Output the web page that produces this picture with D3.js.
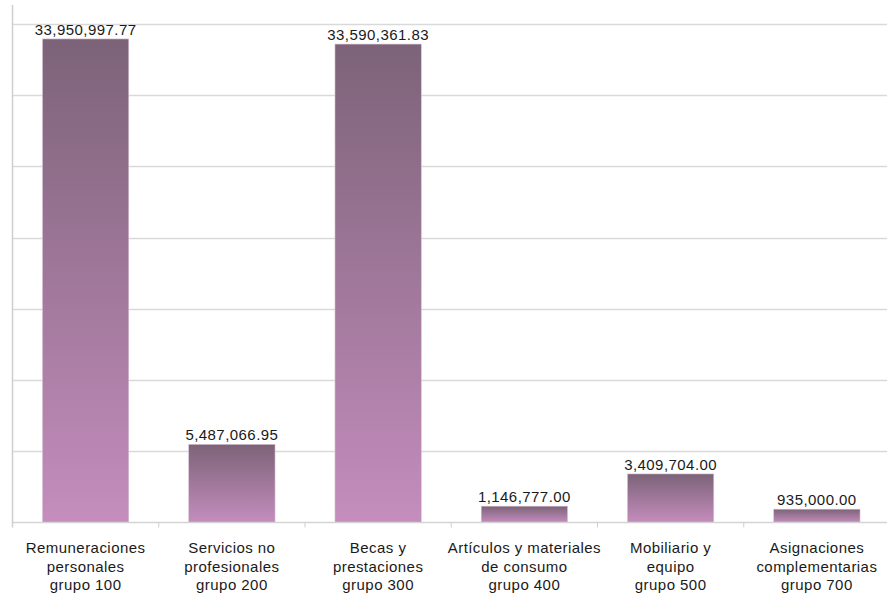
<!DOCTYPE html>
<html>
<head>
<meta charset="utf-8">
<script src="https://cdn.jsdelivr.net/npm/d3@7"></script>
<style>
  html, body { margin: 0; padding: 0; background: #fff; }
  svg { display: block; }
  text { font-family: "Liberation Sans", Arial, Helvetica, sans-serif; fill: #1a1a1a; letter-spacing: 0.45px; }
</style>
</head>
<body>
<svg id="chart" width="887" height="595"></svg>
<script>
const categories = [
  ["Remuneraciones", "personales", "grupo 100"],
  ["Servicios no", "profesionales", "grupo 200"],
  ["Becas y", "prestaciones", "grupo 300"],
  ["Artículos y materiales", "de consumo", "grupo 400"],
  ["Mobiliario y", "equipo", "grupo 500"],
  ["Asignaciones", "complementarias", "grupo 700"]
];
const values = [33950997.77, 5487066.95, 33590361.83, 1146777.00, 3409704.00, 935000.00];
const yTicks = [0, 5000000, 10000000, 15000000, 20000000, 25000000, 30000000, 35000000];

const svg = d3.select("#chart");
const mLeft = 12.5, mRight = 890, mTop = 24, mBottom = 522.5;

const x = d3.scaleBand().domain(d3.range(categories.length)).range([mLeft, mRight]).paddingInner(0.41).paddingOuter(0.205);
const xEdges = d3.scaleLinear().domain([0, categories.length]).range([mLeft, mRight]);
const y = d3.scaleLinear().domain([0, 35000000]).range([mBottom, mTop]);

const defs = svg.append("defs");
const grad = defs.append("linearGradient").attr("id", "barGrad")
  .attr("x1", 0).attr("y1", 0).attr("x2", 0).attr("y2", 1);
grad.append("stop").attr("offset", "0%").attr("stop-color", "#7c6378");
grad.append("stop").attr("offset", "100%").attr("stop-color", "#c48dbd");

// gridlines
svg.append("g").selectAll("line").data(yTicks.slice(1)).join("line")
  .attr("x1", mLeft).attr("x2", 887)
  .attr("y1", d => Math.round(y(d)) + 0.5).attr("y2", d => Math.round(y(d)) + 0.5)
  .attr("stroke", "#d9d9d9").attr("stroke-width", 1.5);

// bars
svg.append("g").selectAll("rect").data(values).join("rect")
  .attr("x", (d, i) => x(i))
  .attr("width", x.bandwidth())
  .attr("y", d => y(d))
  .attr("height", d => y(0) - y(d))
  .attr("fill", "url(#barGrad)")
  .attr("stroke", "#d8c0d4").attr("stroke-width", 0.6);

// baseline axis
svg.append("line").attr("x1", mLeft).attr("x2", 887).attr("y1", mBottom).attr("y2", mBottom)
  .attr("stroke", "#d4d4d4").attr("stroke-width", 1.5);
// left axis
svg.append("line").attr("x1", mLeft).attr("x2", mLeft).attr("y1", 5).attr("y2", mBottom + 5)
  .attr("stroke", "#cfcfcf").attr("stroke-width", 1.5);
// category ticks
svg.append("g").selectAll("line").data(d3.range(1, categories.length)).join("line")
  .attr("x1", d => xEdges(d)).attr("x2", d => xEdges(d))
  .attr("y1", mBottom).attr("y2", mBottom + 5)
  .attr("stroke", "#cfcfcf").attr("stroke-width", 1);

// value labels
svg.append("g").selectAll("text").data(values).join("text")
  .attr("x", (d, i) => x(i) + x.bandwidth() / 2)
  .attr("y", d => y(d) - 4)
  .attr("text-anchor", "middle")
  .attr("font-size", "15px")
  .text(d => d3.format(",.2f")(d));

// category labels
const cat = svg.append("g").selectAll("text").data(categories).join("text")
  .attr("x", (d, i) => x(i) + x.bandwidth() / 2)
  .attr("y", 553)
  .attr("text-anchor", "middle")
  .attr("font-size", "15px");
cat.selectAll("tspan").data(d => d).join("tspan")
  .attr("x", function () { return d3.select(this.parentNode).attr("x"); })
  .attr("dy", (d, i) => i === 0 ? 0 : 18.5)
  .text(d => d);
</script>
</body>
</html>
